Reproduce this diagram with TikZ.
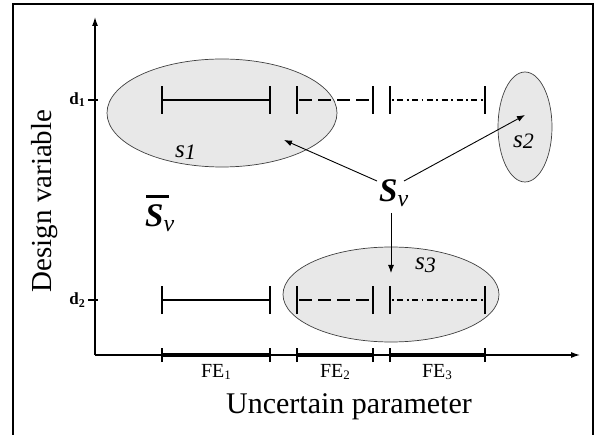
\documentclass[tikz,border=0pt]{standalone}
\usepackage{fontspec}
\setmainfont{Liberation Serif}
\usetikzlibrary{arrows.meta,shapes.geometric}
\begin{document}
\begin{tikzpicture}[x=1pt,y=-1pt,
  frame/.style={line width=1.3pt},
  axis/.style={line width=1.2pt,-{Latex[length=9pt,width=6pt]}},
  set/.style={ellipse,draw=black!75,line width=0.7pt,fill=black!9,inner sep=0pt},
  interval/.style={line width=2.8pt},
  endbar/.style={line width=2.8pt},
  ival2/.style={interval,dash pattern=on 13pt off 6pt},
  ival3/.style={interval,line width=2.3pt,dash pattern=on 1.8pt off 3.5pt on 6pt off 3.5pt},
  fe/.style={line width=3.8pt},
  fetick/.style={line width=2.6pt},
  arr/.style={line width=0.9pt,-{Latex[length=8pt,width=6pt]}},
  every node/.style={inner sep=0pt}
]
\useasboundingbox (0,0) rectangle (599,435);
% frame
\draw[frame] (13,436) -- (13,4) -- (593,4) -- (593,436);
% sets
\node[set,minimum width=230pt,minimum height=108pt] (e1) at (222,113) {};
\node[set,minimum width=54pt,minimum height=110pt] (e2) at (525,127) {};
\node[set,minimum width=216pt,minimum height=95pt] (e3) at (391,294.5) {};
% axes
\coordinate (O) at (95,355);
\coordinate (ytip) at (95,17);
\coordinate (xtip) at (580,355);
\draw[axis] (O) -- (ytip);
\draw[axis] (O) -- (xtip);
% d ticks
\coordinate (d1) at (95,100);
\coordinate (d2) at (95,300);
\draw[line width=2.4pt] ([xshift=-7pt]d1) -- ([xshift=3pt]d1);
\draw[line width=2.4pt] ([xshift=-7pt]d2) -- ([xshift=3pt]d2);
\node[anchor=base east,font=\fontsize{17}{17}\selectfont\bfseries] (l1) at (85,105) {d\raisebox{-2pt}{\fontsize{12}{12}\selectfont 1}};
\node[anchor=base east,font=\fontsize{17}{17}\selectfont\bfseries] (l2) at (85,305) {d\raisebox{-2pt}{\fontsize{12}{12}\selectfont 2}};
% intervals
\foreach \y in {100,300}{
  \coordinate (a1) at (162,\y); \coordinate (a2) at (270,\y);
  \coordinate (a3) at (297,\y); \coordinate (a4) at (373,\y);
  \coordinate (a5) at (390,\y); \coordinate (a6) at (485,\y);
  \draw[interval] (a1) -- (a2);
  \draw[ival2] ([xshift=2pt]a3) -- (a4);
  \draw[ival3] ([xshift=2pt]a5) -- (a6);
  \foreach \p in {a1,a2,a3,a4,a6}{
    \draw[endbar] ([yshift=-14pt]\p) -- ([yshift=14pt]\p);
  }
  \draw[line width=1.6pt] ([yshift=-14pt]a5) -- ([yshift=14pt]a5);
}
% FE on axis
\coordinate (f1) at (162,355); \coordinate (f2) at (270,355);
\coordinate (f3) at (297,355); \coordinate (f4) at (373,355);
\coordinate (f5) at (390,355); \coordinate (f6) at (485,355);
\draw[fe] (f1) -- (f2);
\draw[fe] (f3) -- (f4);
\draw[fe] (f5) -- (f6);
\foreach \p in {f1,f2,f3,f4,f5,f6}{
  \draw[fetick] ([yshift=-7pt]\p) -- ([yshift=7pt]\p);
}
\node[anchor=base,font=\fontsize{20}{20}\selectfont] (fe1) at (216,377) {FE\raisebox{-2pt}{\fontsize{13}{13}\selectfont 1}};
\node[anchor=base,font=\fontsize{20}{20}\selectfont] (fe2) at (335,377) {FE\raisebox{-2pt}{\fontsize{13}{13}\selectfont 2}};
\node[anchor=base,font=\fontsize{20}{20}\selectfont] (fe3) at (437,377) {FE\raisebox{-2pt}{\fontsize{13}{13}\selectfont 3}};
% axis titles
\node[anchor=base,font=\fontsize{30}{30}\selectfont] (xt) at (349,413) {Uncertain parameter};
\node[anchor=base,rotate=90,font=\fontsize{29}{29}\selectfont] (yt) at (51,201) {Design variable};
% set labels
\node[anchor=base west,font=\fontsize{25}{25}\selectfont\itshape] (s1) at (175,158) {s\raisebox{-2pt}{\fontsize{22}{22}\selectfont 1}};
\node[anchor=base west,font=\fontsize{25}{25}\selectfont\itshape] (s2) at (513,148) {s\raisebox{-1pt}{\fontsize{22}{22}\selectfont 2}};
\node[anchor=base west,font=\fontsize{25}{25}\selectfont\itshape] (s3) at (415,270) {s\raisebox{-2pt}{\fontsize{22}{22}\selectfont 3}};
% S_v
\node[anchor=base west,font=\fontsize{33}{33}\selectfont] (Sv) at (379,202) {\textbf{\textit{S}}\raisebox{-5pt}{\itshape\fontsize{24}{24}\selectfont v}};
\node[anchor=base west,font=\fontsize{33}{33}\selectfont] (Sbar) at (145,227) {\rlap{\hspace{1pt}\raisebox{29pt}{\rule{23pt}{2.6pt}}}\textbf{\textit{S}}\raisebox{-5pt}{\itshape\fontsize{24}{24}\selectfont v}};
% arrows
\coordinate (t1) at (284,140);
\coordinate (t2) at (525,115);
\coordinate (t3) at (391,273);
\coordinate (o1) at (377,181);
\coordinate (o2) at (404,181);
\coordinate (o3) at (391,213);
\draw[arr] (o1) -- (t1);
\draw[arr] (o2) -- (t2);
\draw[arr] (o3) -- (t3);
\end{tikzpicture}
\end{document}
